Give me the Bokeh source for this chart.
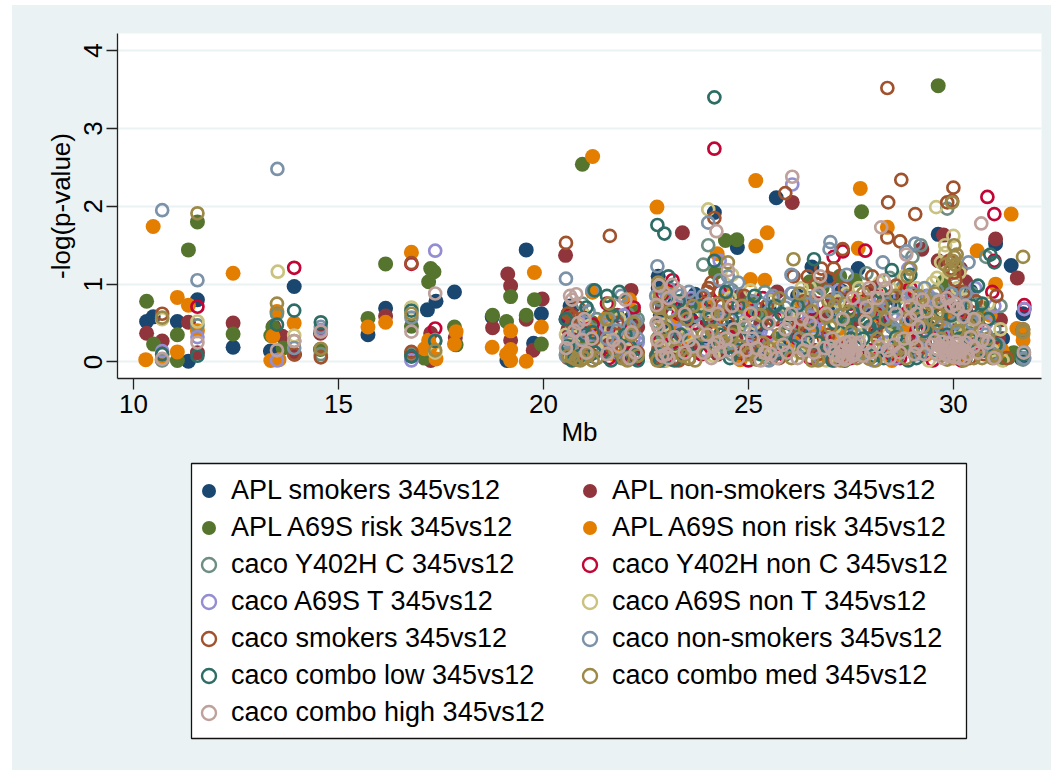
from bokeh.plotting import figure
from bokeh.layouts import column
from bokeh.embed import file_html
from bokeh.resources import INLINE
from bokeh.models import Legend, LegendItem, FixedTicker, Range1d

x_ticks = [10, 15, 20, 25, 30]
y_ticks = [0, 1, 2, 3, 4]

apl_smokers = [(10.32,.52),(10.48,.58),(11.07,.52),(11.34,.01),(11.56,.8),(12.43,.19),(13.92,.97),(13.34,.14),(15.72,.35),(16.15,.69),(17.17,.67),(17.38,.78),(17.83,.9),(18.75,.58),(19.11,.02),(19.58,1.44),(19.95,.62),(19.76,.24),
(20.55,.55),(20.6,.1),(20.7,.35),(20.85,.2),(21,.45),(21.1,.08),(21.2,.3),(21.55,.5),(21.6,.15),(21.9,.3),(22.1,.55),(22.8,1.1),(22.8,.95),(22.85,.6),(23,.35),(23.2,.75),(23.4,.1),(23.6,.55),(23.7,.87),(24.1,.3),(24.3,.6),(24.17,1.92),(24.73,1.47),(24.6,.45),(24.9,.15),(25.2,.4),(25.5,.7),(25.68,2.11),(25.8,.25),(26,.6),(26.55,1.22),(26.63,.63),(26.95,.65),(27.28,.91),(27,1.06),(27.68,1.2),(29.63,1.64),(31.03,1.52),(31.41,1.24),(30.42,.91),(31.7,.62),(28.1,.35),(28.6,.8),(29.2,.2),(29.9,.7),(30.6,.3),(31.65,.05),
(20.65,.72),(20.95,.62),(21.75,.42),(22.25,.18),(23.1,.5),(23.85,.25),(24.4,.15),(25,.6),(25.35,.12),(26.2,.85),(26.4,.35),(27.5,.4),(27.9,.7),(28.3,.15),(28.95,.5),(29.4,.45),(30.1,.9),(30.35,.55),(30.9,.12),(31.2,.3)]
apl_non_smokers = [(10.32,.37),(10.7,.27),(11.34,.51),(11.56,.12),(12.43,.5),(13.42,.46),(13.63,.33),(13.93,.1),(14.56,.37),(16.15,.59),(16.78,.1),(17.25,.37),(17.25,.02),(17.85,.31),(19.13,1.13),(19.2,.98),(18.76,.44),(19.2,.28),(19.58,.55),(19.97,.81),(19.75,.15),
(20.54,1.37),(22.14,.92),(20.7,.6),(20.9,.3),(21.05,.15),(21.5,.35),(21.8,.6),(22.2,.2),(23.39,1.66),(24.8,.85),(24.5,.68),(22.9,.7),(23.2,.4),(23.6,.2),(24,.5),(24.7,.3),(25.3,.5),(25.7,.9),(26.07,2.05),(26.3,.3),(26.8,.6),(27.3,.2),(27.8,.75),(28.3,.5),(28.9,.3),(29.23,1.45),(29.63,1.3),(29.76,1.63),(30.17,1.2),(30.3,1.03),(31.15,.54),(31.03,1.58),(31.56,1.08),(29.5,.7),(30,.4),(30.7,.15),(31.3,.1),
(20.6,.42),(20.8,.08),(21.35,.3),(21.95,.08),(22.3,.45),(22.85,.2),(23.5,.78),(24.25,.1),(25.05,.22),(25.6,.08),(26.6,.15),(27.05,.8),(27.6,.55),(28.1,.95),(28.6,.15),(29,.85),(29.85,.95),(30.45,.35),(31.1,.3)]
apl_risk = [(10.32,.78),(10.49,.23),(11.07,.35),(11.07,.02),(11.34,1.44),(11.56,1.8),(12.43,.36),(13.4,.45),(13.35,.34),(13.65,.18),(14.56,.16),(15.72,.56),(16.15,1.26),(16.78,.46),(17.25,1.2),(17.33,1.16),(17.2,1.03),(17.1,.05),(17.83,.45),(17.87,.22),(18.76,.6),(19.1,.52),(19.2,.84),(19.58,.6),(19.78,.8),(19.95,.23),
(20.95,2.54),(21.2,.9),(21.2,.5),(20.7,.15),(21.6,.6),(22,.1),(22.9,.3),(23.3,.6),(24.44,1.56),(24.72,1.57),(24.2,1.15),(25.05,.78),(24.5,.2),(25.4,.6),(25.9,.1),(26.26,.45),(26.5,1.03),(26.8,.95),(27.4,.55),(27.23,1.1),(27.6,1.05),(27.76,1.93),(28.2,.7),(29.63,3.55),(29.76,1.03),(30.7,.7),(31.47,.12),(31.22,.03),(31.35,.06),(30.2,.4),(28.8,.2),
(20.6,.62),(21.05,.25),(21.8,.35),(22.2,.65),(23.1,.18),(23.75,.72),(24.75,.45),(25.7,.3),(26.1,.62),(26.9,.3),(27.35,.02),(28.5,.45),(29.3,.6),(29.75,.1),(30.5,.5),(31,.08)]
apl_non_risk = [(10.48,1.74),(10.3,.03),(11.07,.83),(11.34,.73),(11.07,.13),(10.7,.03),(11.56,.4),(12.43,1.14),(13.5,.65),(13.4,.33),(13.35,.02),(13.55,.03),(13.92,.5),(16.78,1.41),(15.72,.45),(16.15,.51),(17.1,.17),(17.2,.28),(17.38,.04),(17.25,.2),(17.87,.39),(17.83,.23),(18.75,.19),(19.2,.4),(19.2,.16),(19.1,.1),(19.2,.02),(19.58,.01),(19.78,1.15),(19.95,.45),
(21.2,2.64),(21.2,.9),(21.2,.4),(22.1,.8),(21.7,.1),(22.77,1.99),(25.18,2.33),(25.18,1.49),(25.46,1.66),(24.24,1.39),(25.05,1.06),(25.4,1.05),(23.95,.75),(24.44,.86),(23.2,.5),(22.9,.05),(24.8,.03),(27.73,2.23),(27.68,1.46),(26.27,.78),(26.55,.78),(26.46,.5),(26.7,.39),(28.39,1.73),(31.41,1.9),(30.58,1.43),(31.03,1),(31.55,.43),(31.7,.36),(31.19,.15),(28.83,.95),(31.7,.28),(30,.05),(28.5,.02),(27.2,.35),
(20.75,.2),(21.5,.55),(22.05,.3),(23,.9),(23.45,.3),(24.2,.52),(24.95,.7),(25.6,.18),(26.1,.25),(26.85,.08),(27.65,.8),(28.1,.6),(28.85,.4),(29.35,.1),(29.85,.55),(30.25,.05),(30.9,.6)]
caco_y402h_c = [(10.7,.02),(11.56,.47),(13.5,.62),(14.57,.1),(16.78,.11),
(20.55,.1),(20.7,.45),(20.95,.75),(21.2,.2),(21.3,.55),(21.55,.12),(21.9,.05),(22.2,.38),(22.3,.55),(22.8,.5),(22.95,.25),(23.1,.75),(23.3,.05),(23.6,.35),(23.9,1.25),(24.02,1.5),(24.1,.6),(24.4,.2),(24.8,.55),(25.1,.12),(25.4,.9),(25.7,.72),(25.95,.4),(26.4,.2),(26.6,.6),(26.75,1),(27.1,.3),(27.4,.85),(27.88,1.14),(28.1,.55),(28.4,.25),(28.8,.75),(29,1.35),(29.2,1.5),(29.5,.55),(29.85,1.97),(30.05,.25),(30.3,.7),(30.5,.15),(30.8,1.35),(31,.42),(31.15,.72),(31.68,.4),(31.72,.1),(31.7,.03),
(20.65,.3),(20.85,.15),(21.75,.3),(22.05,.62),(22.85,.38),(23.2,.12),(23.45,.5),(24.3,.75),(24.6,.1),(25.25,.3),(25.55,.05),(26.15,.5),(26.9,.12),(27.25,.55),(27.6,.08),(27.95,.3),(28.25,.7),(28.6,.4),(29.1,.1),(29.35,.85),(29.65,.4),(29.95,.7),(30.2,.5),(30.65,.3),
(22.82,.8),(23.25,.92),(24.6,.92),(25.2,.62),(25.95,.75),(26.5,.82),(27.05,.65),(27.65,.92),(28.45,1.08),(28.75,.95),(29.6,.92),(30.05,1),(30.45,.88)]
caco_y402h_nc = [(11.56,.71),(13.92,1.21),(16.78,1.26),(17.36,.43),
(20.7,.3),(21,.12),(21.2,.48),(21.55,.75),(21.9,.4),(22.1,.1),(22.3,.05),(22.85,.3),(23.05,.8),(23.15,1.05),(23.3,.62),(23.5,.15),(23.7,.5),(24.17,2.74),(24.3,.9),(24.5,.35),(24.8,.12),(25.1,.65),(25.45,.25),(25.7,.55),(26.2,.3),(26.33,.48),(26.6,.55),(27.08,1.35),(27.3,1.42),(27.7,.8),(27.85,1.43),(28.1,.35),(28.25,.6),(28.5,.1),(28.9,.65),(29.3,.2),(29.7,.35),(30,.8),(30.4,.18),(30.83,2.12),(31,1.9),(31,1.3),(30.95,.9),(31.73,.73),(31.73,.68),(30.6,.5),
(20.6,.6),(20.85,.05),(21.6,.05),(22.2,.7),(22.95,.02),(23.15,.25),(23.85,.1),(24.15,.45),(24.65,.7),(25,.02),(25.85,.1),(26.5,.05),(26.85,.3),(27.5,.05),(27.95,.15),(28.7,.05),(29.1,.4),(29.5,.02),(30.2,.02),(30.7,.22),
(22.9,.88),(23.35,.7),(24.05,.8),(25.35,.82),(26.7,.75),(27.5,.75),(28.3,.85),(28.95,.95),(29.75,.75),(30.3,.65)]
caco_a69s_t = [(10.7,.14),(11.56,.32),(13.5,.02),(14.57,.41),(16.78,.02),(17.36,1.43),
(20.6,.2),(20.85,.55),(21.1,.35),(21.55,.45),(21.7,.25),(21.95,.6),(22.2,.3),(22.8,.7),(23,.15),(23.25,.55),(23.6,.82),(24.3,1.3),(24.1,.4),(24.5,.95),(25,.2),(25.3,.4),(25.7,.58),(26.05,.88),(26.07,2.28),(26.3,.2),(26.6,.45),(27,.1),(27.2,.92),(27.5,.35),(27.72,.7),(28.05,.02),(28.3,.25),(28.6,.05),(28.9,1.2),(29.1,.55),(29.5,.15),(29.9,.4),(30.3,.22),(30.53,.95),(30.8,.5),(31,.72),(31.73,.68),(27,.05),(28.2,.8),
(20.75,.38),(21.25,.15),(21.8,.12),(22.3,.25),(22.85,.55),(23.4,.4),(23.95,.15),(24.75,.65),(25.5,.35),(26.2,.6),(26.85,.42),(27.85,.15),(28.5,.6),(29.25,.3),(29.75,.35),(30.1,.1),(30.55,.3),
(23,.82),(24.25,.65),(25.55,.82),(26.55,.72),(27.95,.78),(28.7,.85),(29.4,.85),(30.15,.82)]
caco_a69s_nt = [(10.7,.55),(11.56,.52),(13.52,1.16),(13.92,.34),(16.78,.7),(17.36,.12),
(20.65,.05),(20.75,.32),(21,.6),(21.3,.15),(21.55,.25),(21.85,.55),(22.25,.12),(22.78,.85),(22.95,.48),(23.2,.2),(23.7,.6),(24.02,1.96),(24.35,.38),(24.6,1.12),(24.9,.5),(25.4,.08),(25.7,.2),(25.97,.62),(26.5,.95),(26.9,.02),(27.1,.45),(27.4,.88),(27.55,.15),(27.9,.5),(28.2,1.02),(28.4,.35),(28.7,1.55),(28.8,.7),(29.05,.3),(29.4,.75),(29.58,1.99),(29.6,1.08),(29.8,1.5),(30,1.62),(30.2,.2),(30.52,.55),(30.85,.75),(31.2,.02),(31.15,.42),(29.4,.02),
(20.55,.35),(20.95,.08),(21.65,.42),(22.1,.3),(22.8,.2),(23,.02),(23.5,.35),(24.15,.08),(24.65,.25),(25.15,.5),(26.25,.12),(26.6,.28),(27.25,.4),(27.7,.35),(28.05,.22),(28.55,.25),(29.2,.65),(29.75,.12),(30.05,.45),(30.15,1.15),(29.7,1.28),(30.4,.4),(30.95,.15),
(22.85,1),(23.3,.72),(23.95,.62),(24.55,.82),(25.05,.92),(25.55,.78),(26.3,.95),(26.75,.72),(27.2,.78),(27.7,.95),(28.05,.82),(28.45,.95),(28.8,1.1),(29.1,.95),(29.5,1.02),(29.65,.7),(29.9,1.15),(30.1,.95),(30.3,.8),(29.8,1.4)]
caco_smokers = [(10.7,.62),(13.92,.1),(14.57,.06),(16.78,1.27),(16.78,.13),
(20.55,1.53),(21.62,1.62),(20.7,.5),(20.85,.7),(20.6,.05),(21.2,.28),(21.65,.2),(22.2,.4),(22.8,.15),(22.85,.05),(23.3,.02),(23.55,.04),(24.17,1.85),(24.1,1.02),(24.03,.95),(24.5,.5),(25.1,.1),(25.9,2.17),(25.6,.55),(26.45,1.1),(26.78,1.2),(26.98,1.07),(27.08,1.2),(27.3,1.45),(27.55,.65),(28.02,1.1),(28.39,3.52),(28.41,2.05),(28.39,1.6),(28.73,2.34),(29.07,1.9),(28.7,1.55),(28.5,.85),(29.97,2.07),(29.85,2.05),(30,2.24),(30.02,1.15),(29.9,1.3),(30.25,.9),(31.05,.85),(29.3,.25),(29.7,.6),(28.1,.4),(27.1,.02),(31.7,.42),(31.3,.05),(26.1,1.1),
(20.6,.62),(20.7,.58),(20.85,.15),(21,.4),(21.15,.1),(21.8,.5),(22.05,.2),(22.3,.12),(22.75,.08),(22.95,.1),(23.15,.03),(23.7,.15),(24,.9),(24.25,.3),(24.75,.12),(25.3,.25),(25.75,.05),(26.2,.45),(26.7,.1),(26.95,.35),(27.45,.08),(27.8,.55),(28.3,.78),(28.65,.12),(28.95,.65),(29.15,.15),(29.6,.4),(29.95,1.2),(30.05,1.05),(30.4,.05),(30.75,.1),
(22.8,.72),(23.4,.6),(24.35,.72),(24.9,.85),(25.45,.72),(26.35,.78),(26.65,1),(27.35,.95),(27.95,.9),(28.6,.98),(29.25,.72),(29.8,.82),(30.15,.62),(30.55,.78)]
caco_non_smokers = [(10.7,1.95),(11.56,1.05),(13.51,2.48),(13.92,.18),(14.57,.45),(16.78,.57),(17.36,.28),
(20.55,1.07),(20.55,.08),(20.7,.15),(21.2,.92),(20.85,.4),(21.1,.65),(21.55,.3),(21.9,.85),(22.25,.52),(22.75,.85),(22.78,1.23),(22.85,.02),(23.35,.85),(23.55,.9),(23.7,.6),(24.02,1.79),(24.2,.3),(24.5,1.1),(24.75,1.02),(25.3,.75),(25.9,.7),(26.07,.88),(26.05,1.12),(26.4,.75),(26.95,.9),(26.98,1.45),(27,1.54),(27.4,1.12),(27.6,.35),(28,.42),(28.28,1.28),(28.6,.55),(28.85,1.42),(29.07,1.52),(29.4,.25),(29.55,.8),(30.05,.5),(30.37,1.28),(30.3,.15),(30.8,.35),(30.95,.1),(31.72,.13),(31.73,.05),(31.1,.22),(29.9,.12),
(20.65,.25),(20.95,.3),(21.3,.05),(21.6,.55),(21.8,.4),(22.1,.45),(22.3,.3),(22.8,.3),(23.05,.05),(23.25,.3),(23.9,.5),(24.35,.55),(24.6,.25),(25.05,.4),(25.5,.02),(25.8,.15),(26.25,.3),(26.75,.05),(27.2,.6),(27.75,.1),(28.15,.65),(28.5,.45),(28.8,.2),(29.2,.1),(29.7,.45),(30.15,.7),(30.45,.5),(30.65,.2),
(23.05,.95),(23.9,.85),(24.3,1.05),(25.1,.78),(25.6,.85),(26.65,.85),(27.15,.82),(27.75,.72),(28.4,.75),(29,.88),(29.3,.95),(29.95,.88),(30.3,.88),(30.7,.62)]
caco_low = [(10.7,.1),(11.56,.08),(13.5,.48),(13.92,.66),(14.57,.51),(16.78,.66),(16.78,.07),(17.36,.27),
(20.55,.55),(20.7,.02),(21.05,.7),(21.2,.38),(21.25,.92),(21.55,.85),(21.85,.9),(22.1,.2),(22.3,.02),(22.78,1.76),(22.95,1.65),(22.78,.1),(23.05,1.1),(23.35,.35),(23.5,.6),(24.17,3.4),(24.17,1.3),(24.02,.25),(24.45,.9),(24.6,.55),(25.15,.85),(25.45,.5),(25.65,.72),(25.9,.35),(26.33,.18),(26.6,1.32),(26.7,.25),(27.05,.02),(27.4,.5),(27.7,.6),(27.8,.3),(28.05,.08),(28.22,.9),(28.5,1.18),(28.95,1.12),(29.3,.4),(29.6,.15),(29.95,.6),(30.3,.05),(30.6,.98),(30.9,1.38),(31,1.28),(30.7,.75),(31.7,.1),(29.1,.05),(31.03,.22),
(20.6,.2),(20.9,.08),(21,.35),(21.25,.12),(21.65,.02),(21.7,.6),(22,.35),(22.2,.05),(22.85,.02),(23,.42),(23.2,.02),(23.75,.2),(24.05,.55),(24.3,.35),(24.55,.05),(24.8,.3),(25.3,.1),(25.7,.12),(26.1,.2),(26.55,.4),(26.9,.2),(27.2,.12),(27.5,.3),(27.95,.45),(28.3,.05),(28.6,.32),(28.9,.02),(29.2,.6),(29.55,.4),(29.85,.35),(30.2,.15),(30.45,.28),(30.75,.15),
(23.3,.78),(23.85,.72),(24.75,.72),(25.8,.62),(26.2,.72),(27.1,.5),(27.55,.62),(28.15,.5),(28.55,.72),(29.05,.65),(29.7,.65),(30.15,.3),(30.45,.72),(30.85,.55)]
caco_med = [(10.7,.57),(11.56,1.91),(13.5,.75),(13.92,.27),(14.57,.17),(16.78,.62),(17.36,.15),
(20.6,.08),(20.8,.03),(21,.05),(21.2,.02),(21.55,.55),(21.6,.75),(21.95,.05),(22.2,.5),(22.3,.08),(22.78,.02),(22.78,.7),(22.95,.42),(22.8,1.02),(23.4,.08),(23.5,.55),(23.7,.02),(23.9,.35),(24.25,.75),(24.5,1.28),(24.8,.2),(25.2,.03),(25.5,.18),(26.1,1.32),(26.38,.42),(26.55,.02),(26.9,.58),(27.1,.72),(27.35,.75),(27.5,.38),(27.8,.88),(28.1,.02),(28.35,.55),(28.7,.3),(28.88,1.1),(28.95,1.2),(29.1,.7),(29.25,.45),(29.55,.88),(29.7,.3),(29.97,2.05),(30.02,1.35),(30.05,1.25),(30.5,.05),(30.6,.55),(30.85,.3),(31.05,.08),(31.7,1.35),(31.7,.42),(31.7,.38),
(20.7,.06),(20.9,.02),(21.1,.1),(21.3,.05),(21.75,.15),(22.05,.02),(22.15,.35),(22.78,.3),(22.85,.55),(23,.25),(23.25,.15),(23.55,.05),(23.95,.12),(24.1,.4),(24.35,.25),(24.6,.35),(25,.1),(25.35,.25),(25.75,.35),(26.05,.05),(26.3,.12),(26.7,.02),(27,.45),(27.25,.02),(27.65,.05),(27.95,.04),(28.15,.3),(28.55,.15),(28.85,.05),(29.2,.22),(29.45,.55),(29.6,.5),(29.85,.03),(30.1,.4),(30.25,.02),(30.4,.45),(30.7,.05),(30.95,.05),(29.98,1.3),(29.92,1.18),(30.08,1.38),
(22.85,.88),(23.1,.65),(23.65,.72),(24.05,.62),(24.4,.62),(24.85,.72),(25.3,.6),(25.75,.82),(26.25,.88),(26.55,.65),(26.95,.78),(27.45,.65),(27.95,.65),(28.25,.72),(28.6,.85),(28.85,.55),(29.15,.85),(29.45,.75),(29.6,.62),(29.85,.72),(30.25,.72),(30.55,.3),(29.8,1.25),(30.02,1.5)]
caco_high = [(10.7,.04),(11.56,.25),(13.5,.15),(13.92,.27),(14.57,.39),(16.78,.39),(17.36,.88),
(20.65,.85),(20.8,.87),(20.7,.8),(20.85,.5),(21,.55),(20.6,.3),(21.18,.3),(21.55,.1),(21.85,.2),(22,.8),(22.15,.38),(22.25,.12),(22.76,.73),(22.76,.5),(22.8,.45),(22.9,.08),(23,.1),(23.05,.05),(23.14,.99),(23.32,.9),(23.55,.28),(23.75,.4),(24.03,.74),(24.22,1.68),(24,.35),(24.15,.2),(24.3,.12),(24.5,1.18),(24.45,.3),(24.55,.15),(24.75,.05),(24.9,.45),(25.1,.3),(25.3,.02),(25.55,.1),(25.85,.22),(26,.5),(26.05,.62),(26.07,2.38),(26.35,.15),(26.6,.12),(26.72,.88),(26.5,.5),(26.75,1.1),(27,.2),(27.1,.12),(27.15,.03),(27.25,.22),(27.3,.06),(27.33,.15),(27.38,.25),(27.42,.05),(27.45,.14),(27.5,.2),(27.55,.08),(27.6,.12),(27.7,.25),(27.85,.52),(27.88,.7),(28.24,1.73),(28.3,1.05),(28.35,.95),(28.4,.15),(28.45,.05),(28.7,.12),(28.85,1.38),(28.9,.85),(29,.3),(29.05,.1),(29.15,.45),(29.25,.8),(29.55,.28),(29.6,.1),(29.68,.2),(29.75,.05),(29.8,.15),(29.88,.24),(29.92,.08),(29.98,.18),(30.05,.12),(30.1,.22),(30.15,.05),(30.22,.16),(30.3,.25),(30.35,.1),(30.05,.75),(30.1,.68),(30.68,1.78),(30.75,.4),(30.85,.25),(31,.05),(31.72,.12),(29.95,.72),(30.25,.58),(29.35,.65),(30.6,.12),
(20.55,.18),(20.75,.4),(20.95,.28),(21.05,.12),(21.7,.28),(22.1,.05),(22.78,.28),(22.88,.2),(23.2,.32),(23.45,.12),(23.65,.2),(23.9,.12),(24.1,.05),(24.25,.25),(24.65,.42),(24.95,.15),(25.2,.18),(25.4,.12),(25.7,.05),(25.95,.12),(26.2,.05),(26.45,.28),(26.85,.18),(27.05,.3),(27.2,.08),(27.28,.14),(27.36,.03),(27.48,.26),(27.62,.22),(27.8,.08),(28,.12),(28.2,.2),(28.55,.22),(28.8,.3),(28.95,.55),(29.1,.2),(29.3,.1),(29.48,.22),(29.62,.16),(29.72,.26),(29.82,.1),(29.9,.18),(30.02,.06),(30.08,.26),(30.18,.14),(30.28,.05),(30.42,.32),(30.5,.2),(30.7,.28),
(22.82,.98),(23.05,.82),(23.45,.62),(24.25,.62),(24.6,.72),(25.05,.62),(25.5,.5),(25.9,.42),(26.3,.55),(26.9,.62),(27.3,.55),(27.55,.82),(27.95,.95),(28.15,.82),(28.6,.62),(28.95,.72),(29.1,.62),(29.65,.78),(29.85,.82),(30.3,.72),(30.5,.55)]

series = [
    ("APL smokers 345vs12", apl_smokers, "#1a476f", True),
    ("APL non-smokers 345vs12", apl_non_smokers, "#90353b", True),
    ("APL A69S risk 345vs12", apl_risk, "#55752f", True),
    ("APL A69S non risk 345vs12", apl_non_risk, "#e37e00", True),
    ("caco Y402H C 345vs12", caco_y402h_c, "#6e8e84", False),
    ("caco Y402H non C 345vs12", caco_y402h_nc, "#c10534", False),
    ("caco A69S T 345vs12", caco_a69s_t, "#938dd2", False),
    ("caco A69S non T 345vs12", caco_a69s_nt, "#cac27e", False),
    ("caco smokers 345vs12", caco_smokers, "#a0522d", False),
    ("caco non-smokers 345vs12", caco_non_smokers, "#7b92a8", False),
    ("caco combo low 345vs12", caco_low, "#2d6d66", False),
    ("caco combo med 345vs12", caco_med, "#9c8847", False),
    ("caco combo high 345vs12", caco_high, "#bfa19c", False),
]

FONT = "Liberation Sans"
BG = "#eaf2f3"

p = figure(width=1039, height=445, output_backend="svg", toolbar_location=None,
           x_range=Range1d(9.61, 32.15), y_range=Range1d(-0.212, 4.22),
           x_axis_label="Mb", y_axis_label="-log(p-value)",
           min_border_left=105, min_border_right=10, min_border_top=28, min_border_bottom=72,
           frame_align=False)
p.background_fill_color = "white"
p.border_fill_color = BG
p.outline_line_color = None

p.xaxis.ticker = FixedTicker(ticks=x_ticks)
p.yaxis.ticker = FixedTicker(ticks=y_ticks)
p.xgrid.visible = False
p.ygrid.grid_line_color = BG
p.ygrid.grid_line_width = 2
for ax in (p.xaxis[0], p.yaxis[0]):
    ax.axis_line_color = "#222222"
    ax.axis_line_width = 1.3
    ax.major_tick_line_color = "#222222"
    ax.major_tick_line_width = 1.3
    ax.major_tick_out = 11
    ax.major_tick_in = 0
    ax.minor_tick_line_color = None
    ax.major_label_text_font = FONT
    ax.major_label_text_font_size = "26px"
    ax.major_label_text_color = "black"
    ax.axis_label_text_font = FONT
    ax.axis_label_text_font_size = "26px"
    ax.axis_label_text_font_style = "normal"
    ax.axis_label_text_color = "black"
p.yaxis[0].major_label_orientation = "vertical"
p.xaxis[0].major_label_standoff = 5
p.xaxis[0].axis_label_standoff = 1
p.yaxis[0].major_label_standoff = 4
p.yaxis[0].axis_label_standoff = 6

for label, pts, color, filled in series:
    xs = [a for a, _ in pts]
    ys = [b for _, b in pts]
    if filled:
        p.scatter(xs, ys, size=15, marker="circle", fill_color=color, line_color=None)
    else:
        p.scatter(xs, ys, size=12, marker="circle", fill_color=None, line_color=color, line_width=2.7)

# legend panel: a second figure whose axes are page pixels
q = figure(width=1039, height=320, output_backend="svg", toolbar_location=None,
           x_range=Range1d(12, 1051), y_range=Range1d(770, 450), x_axis_type=None, y_axis_type=None,
           min_border=0, frame_align=False)
q.grid.visible = False
q.outline_line_color = None
q.background_fill_color = BG
q.border_fill_color = BG
q.quad(left=[191], right=[966], top=[463], bottom=[738], fill_color="white", line_color="#111111", line_width=1.3)

handles = []
for label, pts, color, filled in series:
    xs = [a for a, _ in pts]
    ys = [b for _, b in pts]
    if filled:
        r = q.scatter(xs, ys, size=15, marker="circle", fill_color=color, line_color=None)
    else:
        r = q.scatter(xs, ys, size=11, marker="circle", fill_color=None, line_color=color, line_width=2.4)
    handles.append(LegendItem(label=label, renderers=[r]))

legend_order = [0, 2, 4, 6, 8, 10, 12, 1, 3, 5, 7, 9, 11]
legend = Legend(items=[handles[i] for i in legend_order], nrows=7, location=(179, 40), padding=0, margin=0, spacing=2,
                glyph_width=35, glyph_height=35, label_standoff=5, label_width=339, label_height=30,
                label_text_font=FONT, label_text_font_size="27px", label_text_color="black",
                background_fill_alpha=0, border_line_color=None)
q.add_layout(legend)

page = column(p, q, spacing=0, margin=(5, 0, 0, 12), styles={"background-color": BG})
open("out.html", "w").write(file_html(page, INLINE))
